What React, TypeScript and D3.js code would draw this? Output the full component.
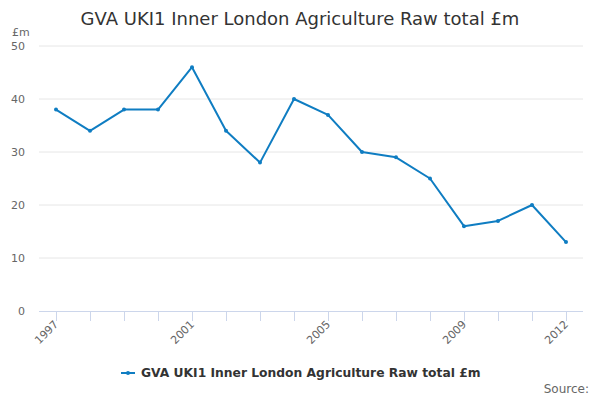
import React from "react";
import * as d3 from "d3";

const years = ["1997", "1998", "1999", "2000", "2001", "2002", "2003", "2004", "2005", "2006", "2007", "2008", "2009", "2010", "2011", "2012"];
const values = [38, 34, 38, 38, 46, 34, 28, 40, 37, 30, 29, 25, 16, 17, 20, 13];
const yTicks = [0, 10, 20, 30, 40, 50];
const shownYears = ["1997", "2001", "2005", "2009", "2012"];

const title = "GVA UKI1 Inner London Agriculture Raw total £m";
const font = "'DejaVu Sans', sans-serif";
const lineColor = "#0f7dc2";

export default function App() {
  const width = 600;
  const height = 400;
  const left = 39;
  const right = 583;
  const top = 46;
  const bottom = 311;

  const x = d3.scaleBand<string>().domain(years).range([left, right]);
  const y = d3.scaleLinear().domain([0, 50]).range([bottom, top]);
  const cx = (yr: string) => (x(yr) ?? 0) + x.bandwidth() / 2;

  const line = d3
    .line<number>()
    .x((_, i) => cx(years[i]))
    .y((d) => y(d));

  return (
    <svg width={width} height={height} style={{ position: "absolute", left: 0, top: 0, fontFamily: font }}>
      <rect width={width} height={height} fill="#fff" />
      <text x={300} y={25} textAnchor="middle" fontSize={18} fill="#333">
        {title}
      </text>

      {/* grid + y labels */}
      {yTicks.map((t) => (
        <g key={t}>
          {t > 0 && <line x1={left} x2={right} y1={y(t)} y2={y(t)} stroke="#e6e6e6" />}
          <text x={25} y={y(t) + 4} textAnchor="end" fontSize={11} fill="#666">
            {t}
          </text>
        </g>
      ))}
      <text x={12} y={36} fontSize={11} fill="#666">£m</text>

      {/* x axis */}
      <line x1={left} x2={right} y1={bottom + 0.5} y2={bottom + 0.5} stroke="#ccd6eb" />
      {years.map((yr) => (
        <line key={yr} x1={cx(yr) + 0.5} x2={cx(yr) + 0.5} y1={bottom} y2={bottom + 10} stroke="#ccd6eb" />
      ))}
      {shownYears.map((yr) => (
        <text
          key={yr}
          transform={`translate(${cx(yr) + 3},${bottom + 14}) rotate(-45)`}
          textAnchor="end"
          fontSize={11}
          fill="#666"
        >
          {yr}
        </text>
      ))}

      {/* series */}
      <path d={line(values) ?? ""} fill="none" stroke={lineColor} strokeWidth={2} strokeLinejoin="round" />
      {values.map((v, i) => (
        <circle key={i} cx={cx(years[i])} cy={y(v)} r={2} fill={lineColor} />
      ))}

      {/* legend */}
      <line x1={121} x2={135} y1={373} y2={373} stroke={lineColor} strokeWidth={2} />
      <circle cx={128} cy={373} r={2} fill={lineColor} />
      <text x={141} y={377} fontSize={12.3} fontWeight="bold" fill="#333">
        {title}
      </text>

      <text x={589} y={393} textAnchor="end" fontSize={12} fill="#666">
        Source:
      </text>
    </svg>
  );
}
